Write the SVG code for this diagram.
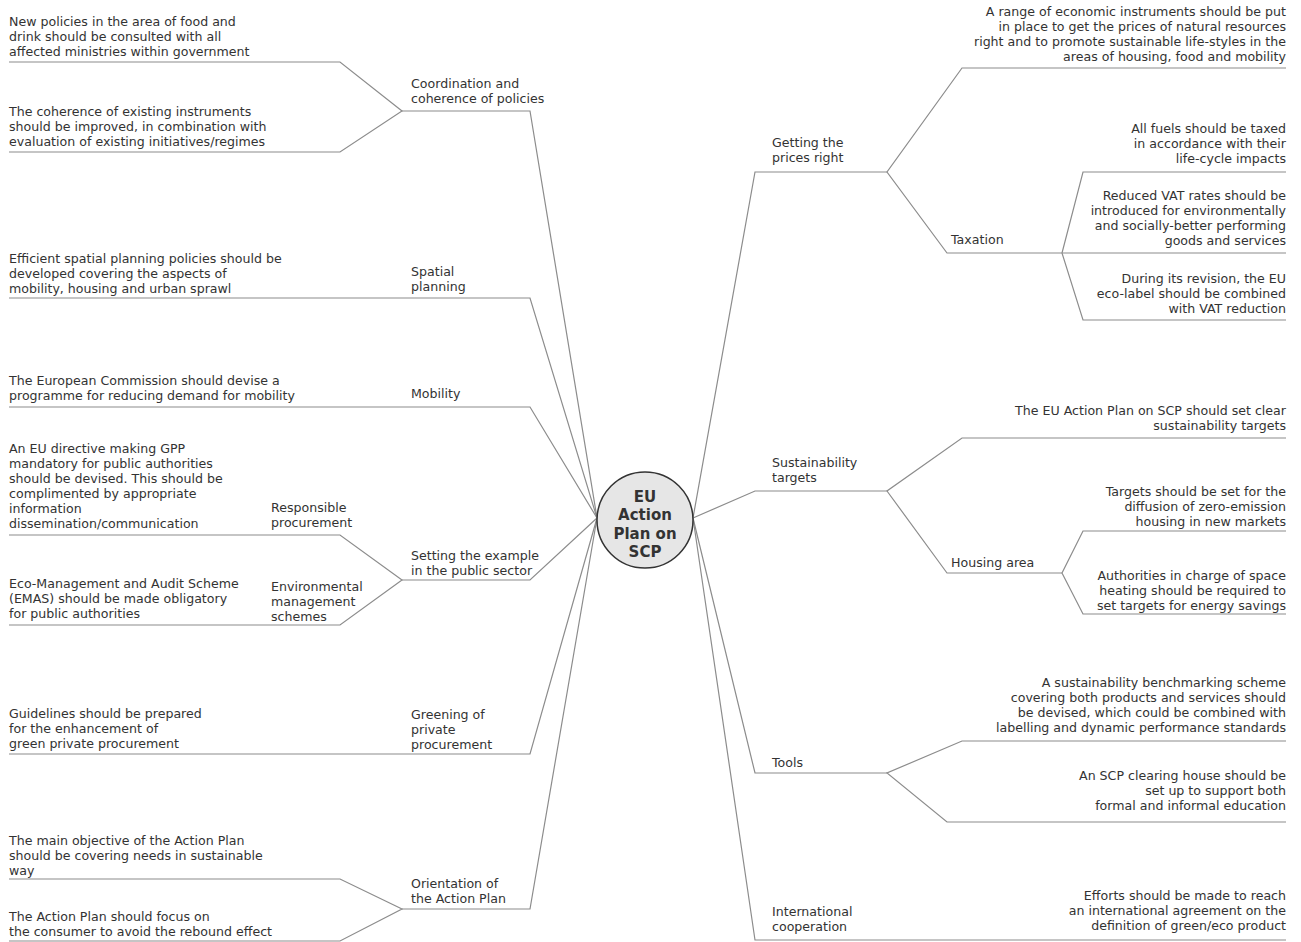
<svg xmlns="http://www.w3.org/2000/svg" width="1301" height="942" viewBox="0 0 1301 942">
<style>
  .t { font-family: "DejaVu Sans", Verdana, sans-serif; font-size: 12.6px; fill: #333; }
  .r { text-anchor: end; }
  .c { font-family: "DejaVu Sans", Verdana, sans-serif; font-size: 15px; font-weight: bold; fill: #333; text-anchor: middle; }
  .ln { fill: none; stroke: #8c8c8c; stroke-width: 1.2; }
</style>
<rect width="1301" height="942" fill="#fff"/>

<g id="connectors">
  <!-- left side -->
  <path class="ln" d="M597,518 L530,111 L402,111"/>
  <path class="ln" d="M9,62 L340,62 L402,111 L340,152 L9,152"/>
  <path class="ln" d="M597,518 L530,298 L9,298"/>
  <path class="ln" d="M597,518 L530,407 L9,407"/>
  <path class="ln" d="M597,518 L530,580 L402,580"/>
  <path class="ln" d="M9,535 L340,535 L402,580 L340,625 L9,625"/>
  <path class="ln" d="M597,518 L530,754 L9,754"/>
  <path class="ln" d="M597,518 L530,909 L402,909"/>
  <path class="ln" d="M9,879 L340,879 L402,909 L340,941 L9,941"/>
  <!-- right side -->
  <path class="ln" d="M693,518 L755,172 L887,172"/>
  <path class="ln" d="M1286,68 L962,68 L887,172 L947,253 L1286,253"/>
  <path class="ln" d="M1286,172 L1083,172 L1062,253 L1083,320 L1286,320"/>
  <path class="ln" d="M693,518 L755,491 L887,491"/>
  <path class="ln" d="M1286,438 L962,438 L887,491 L947,573 L1062,573"/>
  <path class="ln" d="M1286,531 L1083,531 L1062,573 L1083,614 L1286,614"/>
  <path class="ln" d="M693,518 L755,773 L887,773"/>
  <path class="ln" d="M1286,741 L962,741 L887,773 L947,822 L1286,822"/>
  <path class="ln" d="M693,518 L755,940 L1286,940"/>
</g>

<g id="center">
  <circle cx="645" cy="520" r="48" fill="#e6e6e6" stroke="#333" stroke-width="1.5"/>
  <text class="c" x="645" y="502">EU</text>
  <text class="c" x="645" y="520">Action</text>
  <text class="c" x="645" y="539">Plan on</text>
  <text class="c" x="645" y="557">SCP</text>
</g>

<g id="coordination">
  <text class="t" x="411" y="88">Coordination and</text>
  <text class="t" x="411" y="103">coherence of policies</text>
  <text class="t" x="9" y="26">New policies in the area of food and</text>
  <text class="t" x="9" y="41">drink should be consulted with all</text>
  <text class="t" x="9" y="56">affected ministries within government</text>
  <text class="t" x="9" y="116">The coherence of existing instruments</text>
  <text class="t" x="9" y="131">should be improved, in combination with</text>
  <text class="t" x="9" y="146">evaluation of existing initiatives/regimes</text>
</g>

<g id="spatial">
  <text class="t" x="411" y="276">Spatial</text>
  <text class="t" x="411" y="291">planning</text>
  <text class="t" x="9" y="263">Efficient spatial planning policies should be</text>
  <text class="t" x="9" y="278">developed covering the aspects of</text>
  <text class="t" x="9" y="293">mobility, housing and urban sprawl</text>
</g>

<g id="mobility">
  <text class="t" x="411" y="398">Mobility</text>
  <text class="t" x="9" y="385">The European Commission should devise a</text>
  <text class="t" x="9" y="400">programme for reducing demand for mobility</text>
</g>

<g id="public-sector">
  <text class="t" x="411" y="560">Setting the example</text>
  <text class="t" x="411" y="575">in the public sector</text>
  <text class="t" x="271" y="512">Responsible</text>
  <text class="t" x="271" y="527">procurement</text>
  <text class="t" x="9" y="453">An EU directive making GPP</text>
  <text class="t" x="9" y="468">mandatory for public authorities</text>
  <text class="t" x="9" y="483">should be devised. This should be</text>
  <text class="t" x="9" y="498">complimented by appropriate</text>
  <text class="t" x="9" y="513">information</text>
  <text class="t" x="9" y="528">dissemination/communication</text>
  <text class="t" x="271" y="591">Environmental</text>
  <text class="t" x="271" y="606">management</text>
  <text class="t" x="271" y="621">schemes</text>
  <text class="t" x="9" y="588">Eco-Management and Audit Scheme</text>
  <text class="t" x="9" y="603">(EMAS) should be made obligatory</text>
  <text class="t" x="9" y="618">for public authorities</text>
</g>

<g id="greening">
  <text class="t" x="411" y="719">Greening of</text>
  <text class="t" x="411" y="734">private</text>
  <text class="t" x="411" y="749">procurement</text>
  <text class="t" x="9" y="718">Guidelines should be prepared</text>
  <text class="t" x="9" y="733">for the enhancement of</text>
  <text class="t" x="9" y="748">green private procurement</text>
</g>

<g id="orientation">
  <text class="t" x="411" y="888">Orientation of</text>
  <text class="t" x="411" y="903">the Action Plan</text>
  <text class="t" x="9" y="845">The main objective of the Action Plan</text>
  <text class="t" x="9" y="860">should be covering needs in sustainable</text>
  <text class="t" x="9" y="875">way</text>
  <text class="t" x="9" y="921">The Action Plan should focus on</text>
  <text class="t" x="9" y="936">the consumer to avoid the rebound effect</text>
</g>

<g id="prices">
  <text class="t" x="772" y="147">Getting the</text>
  <text class="t" x="772" y="162">prices right</text>
  <text class="t r" x="1286" y="16">A range of economic instruments should be put</text>
  <text class="t r" x="1286" y="31">in place to get the prices of natural resources</text>
  <text class="t r" x="1286" y="46">right and to promote sustainable life-styles in the</text>
  <text class="t r" x="1286" y="61">areas of housing, food and mobility</text>
</g>

<g id="taxation">
  <text class="t" x="951" y="244">Taxation</text>
  <text class="t r" x="1286" y="133">All fuels should be taxed</text>
  <text class="t r" x="1286" y="148">in accordance with their</text>
  <text class="t r" x="1286" y="163">life-cycle impacts</text>
  <text class="t r" x="1286" y="200">Reduced VAT rates should be</text>
  <text class="t r" x="1286" y="215">introduced for environmentally</text>
  <text class="t r" x="1286" y="230">and socially-better performing</text>
  <text class="t r" x="1286" y="245">goods and services</text>
  <text class="t r" x="1286" y="283">During its revision, the EU</text>
  <text class="t r" x="1286" y="298">eco-label should be combined</text>
  <text class="t r" x="1286" y="313">with VAT reduction</text>
</g>

<g id="targets">
  <text class="t" x="772" y="467">Sustainability</text>
  <text class="t" x="772" y="482">targets</text>
  <text class="t r" x="1286" y="415">The EU Action Plan on SCP should set clear</text>
  <text class="t r" x="1286" y="430">sustainability targets</text>
</g>

<g id="housing">
  <text class="t" x="951" y="567">Housing area</text>
  <text class="t r" x="1286" y="496">Targets should be set for the</text>
  <text class="t r" x="1286" y="511">diffusion of zero-emission</text>
  <text class="t r" x="1286" y="526">housing in new markets</text>
  <text class="t r" x="1286" y="580">Authorities in charge of space</text>
  <text class="t r" x="1286" y="595">heating should be required to</text>
  <text class="t r" x="1286" y="610">set targets for energy savings</text>
</g>

<g id="tools">
  <text class="t" x="772" y="767">Tools</text>
  <text class="t r" x="1286" y="687">A sustainability benchmarking scheme</text>
  <text class="t r" x="1286" y="702">covering both products and services should</text>
  <text class="t r" x="1286" y="717">be devised, which could be combined with</text>
  <text class="t r" x="1286" y="732">labelling and dynamic performance standards</text>
  <text class="t r" x="1286" y="780">An SCP clearing house should be</text>
  <text class="t r" x="1286" y="795">set up to support both</text>
  <text class="t r" x="1286" y="810">formal and informal education</text>
</g>

<g id="international">
  <text class="t" x="772" y="916">International</text>
  <text class="t" x="772" y="931">cooperation</text>
  <text class="t r" x="1286" y="900">Efforts should be made to reach</text>
  <text class="t r" x="1286" y="915">an international agreement on the</text>
  <text class="t r" x="1286" y="930">definition of green/eco product</text>
</g>
</svg>
